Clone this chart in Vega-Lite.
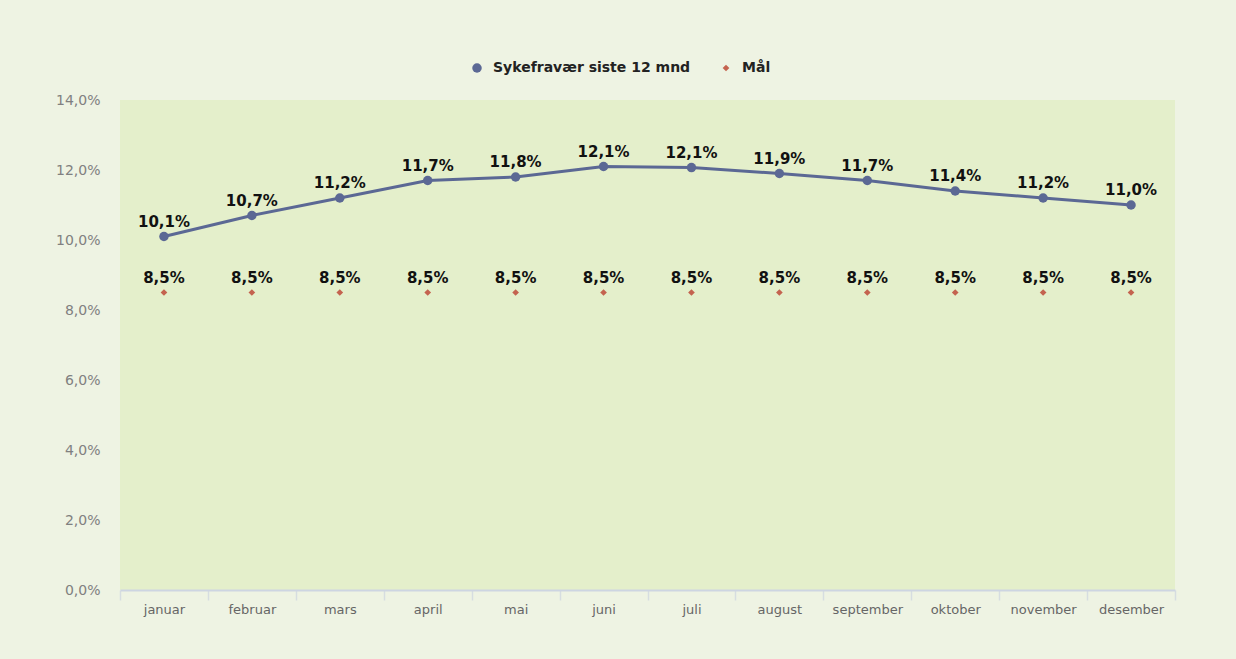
{
  "$schema": "https://vega.github.io/schema/vega-lite/v6.json",
  "width": 1055,
  "height": 490,
  "autosize": {"type": "none"},
  "padding": {"left": 120, "top": 100, "right": 61, "bottom": 69},
  "background": "#eef3e3",
  "config": {
    "locale": {"number": {"decimal": ",", "thousands": " ", "grouping": [3], "currency": ["", " kr"]}},
    "view": {"fill": "#e4efcb", "stroke": null},
    "font": "DejaVu Sans"
  },
  "data": {
    "values": [
      {"maned": "januar", "serie": "Sykefravær siste 12 mnd", "verdi": 0.101},
      {"maned": "februar", "serie": "Sykefravær siste 12 mnd", "verdi": 0.107},
      {"maned": "mars", "serie": "Sykefravær siste 12 mnd", "verdi": 0.112},
      {"maned": "april", "serie": "Sykefravær siste 12 mnd", "verdi": 0.117},
      {"maned": "mai", "serie": "Sykefravær siste 12 mnd", "verdi": 0.118},
      {"maned": "juni", "serie": "Sykefravær siste 12 mnd", "verdi": 0.121},
      {"maned": "juli", "serie": "Sykefravær siste 12 mnd", "verdi": 0.1207},
      {"maned": "august", "serie": "Sykefravær siste 12 mnd", "verdi": 0.119},
      {"maned": "september", "serie": "Sykefravær siste 12 mnd", "verdi": 0.117},
      {"maned": "oktober", "serie": "Sykefravær siste 12 mnd", "verdi": 0.114},
      {"maned": "november", "serie": "Sykefravær siste 12 mnd", "verdi": 0.112},
      {"maned": "desember", "serie": "Sykefravær siste 12 mnd", "verdi": 0.11},
      {"maned": "januar", "serie": "Mål", "verdi": 0.085},
      {"maned": "februar", "serie": "Mål", "verdi": 0.085},
      {"maned": "mars", "serie": "Mål", "verdi": 0.085},
      {"maned": "april", "serie": "Mål", "verdi": 0.085},
      {"maned": "mai", "serie": "Mål", "verdi": 0.085},
      {"maned": "juni", "serie": "Mål", "verdi": 0.085},
      {"maned": "juli", "serie": "Mål", "verdi": 0.085},
      {"maned": "august", "serie": "Mål", "verdi": 0.085},
      {"maned": "september", "serie": "Mål", "verdi": 0.085},
      {"maned": "oktober", "serie": "Mål", "verdi": 0.085},
      {"maned": "november", "serie": "Mål", "verdi": 0.085},
      {"maned": "desember", "serie": "Mål", "verdi": 0.085}
    ]
  },
  "encoding": {
    "x": {
      "field": "maned",
      "type": "nominal",
      "sort": ["januar", "februar", "mars", "april", "mai", "juni", "juli", "august", "september", "oktober", "november", "desember"],
      "title": null,
      "scale": {"paddingInner": 0, "paddingOuter": 0},
      "axis": {
        "labelAngle": 0,
        "labelFont": "DejaVu Sans",
        "labelFontSize": 13,
        "labelColor": "#666666",
        "labelPadding": 3,
        "domainColor": "#cdd5e2",
        "domainWidth": 2,
        "tickColor": "#d6dde0",
        "tickSize": 10,
        "tickWidth": 1.5,
        "tickBand": "extent",
        "grid": false
      }
    },
    "y": {
      "field": "verdi",
      "type": "quantitative",
      "title": null,
      "scale": {"domain": [0, 0.14]},
      "axis": {
        "values": [0, 0.02, 0.04, 0.06, 0.08, 0.1, 0.12, 0.14],
        "format": ".1%",
        "labelFont": "DejaVu Sans",
        "labelFontSize": 14,
        "labelColor": "#808080",
        "labelPadding": 20,
        "ticks": false,
        "domain": false,
        "grid": false
      }
    }
  },
  "layer": [
    {
      "transform": [{"filter": "datum.serie === 'Sykefravær siste 12 mnd'"}],
      "mark": {"type": "line", "color": "#5b6894", "strokeWidth": 3},
      "encoding": {}
    },
    {
      "mark": {"type": "point", "filled": true, "opacity": 1},
      "encoding": {
        "color": {
          "field": "serie",
          "type": "nominal",
          "scale": {"domain": ["Sykefravær siste 12 mnd", "Mål"], "range": ["#5b6894", "#c4634f"]},
          "legend": {
            "title": null,
            "orient": "none",
            "direction": "horizontal",
            "legendX": 350,
            "legendY": -39,
            "labelFont": "DejaVu Sans",
            "labelFontSize": 14,
            "labelFontWeight": "bold",
            "labelColor": "#222222",
            "labelLimit": 400,
            "symbolSize": 60,
            "columnPadding": 28,
            "labelOffset": 9
          }
        },
        "shape": {
          "field": "serie",
          "type": "nominal",
          "scale": {"domain": ["Sykefravær siste 12 mnd", "Mål"], "range": ["circle", "diamond"]},
          "legend": {
            "title": null,
            "orient": "none",
            "direction": "horizontal",
            "legendX": 350,
            "legendY": -39,
            "labelFont": "DejaVu Sans",
            "labelFontSize": 14,
            "labelFontWeight": "bold",
            "labelColor": "#222222",
            "labelLimit": 400,
            "symbolSize": 60,
            "columnPadding": 28,
            "labelOffset": 9
          }
        },
        "size": {
          "field": "serie",
          "type": "nominal",
          "scale": {"domain": ["Sykefravær siste 12 mnd", "Mål"], "range": [90, 45]},
          "legend": null
        }
      }
    },
    {
      "mark": {"type": "text", "fontWeight": "bold", "fontSize": 15, "font": "DejaVu Sans", "color": "#111111", "baseline": "middle", "dy": -15},
      "encoding": {
        "text": {"field": "verdi", "type": "quantitative", "format": ".1%"}
      }
    }
  ]
}
